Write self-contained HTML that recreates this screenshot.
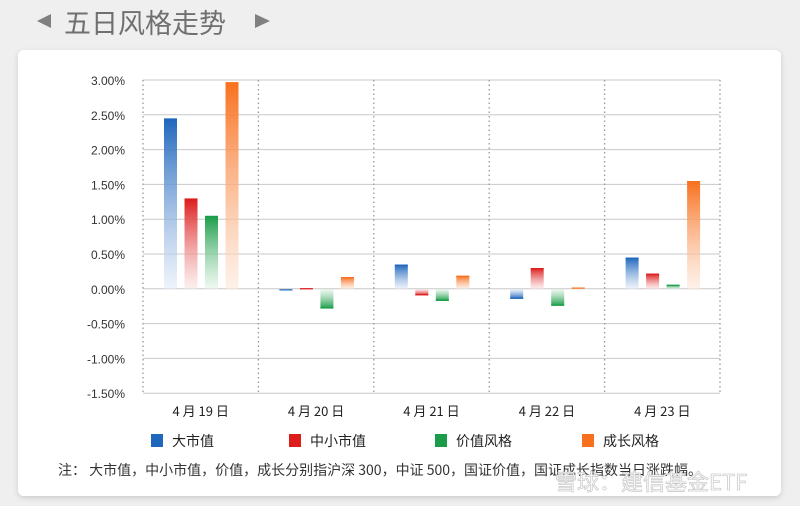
<!DOCTYPE html>
<html><head><meta charset="utf-8"><style>
body{margin:0;width:800px;height:506px;background:#efefef;overflow:hidden;font-family:"Liberation Sans","Noto Sans CJK SC",sans-serif;}
svg{position:absolute;left:0;top:0}
</style></head><body>
<svg id="s" width="800" height="506" xmlns="http://www.w3.org/2000/svg">
<defs>
<filter id="sh" x="-5%" y="-5%" width="110%" height="115%"><feDropShadow dx="0" dy="2" stdDeviation="3" flood-color="#000" flood-opacity="0.15"/></filter>
</defs>
<polygon points="37,21 51,14 51,28" fill="#808080"/>
<text x="64" y="33" font-size="27" fill="#707070" font-family="Noto Sans CJK SC, sans-serif">五日风格走势</text>
<polygon points="270,14 255,7 255,21" fill="#808080" transform="translate(0,7)"/>
<rect x="18" y="50" width="763" height="446" rx="6" fill="#fff" filter="url(#sh)"/>
<g id="g"></g>
<text x="58" y="475" font-size="14" fill="#333" font-family="Noto Sans CJK SC, sans-serif">注：  大市值，中小市值，价值，成长分别指沪深 300，中证 500，国证价值，国证成长指数当日涨跌幅。</text>
<text x="555" y="490" font-size="22" fill="#fff" stroke="#ccc" stroke-width="0.8" font-family="Noto Sans CJK SC, sans-serif">雪球：建信基金ETF</text>
</svg>
<script>
const g=document.getElementById('g');let h='';
const z=289,k=69.6,x0=143,cw=115.4;
const cols=[['#1f66bd','#e3ecf8'],['#dd1c1c','#fbe6e6'],['#1a9c48','#e3f4e8'],['#f8701e','#fde9dc']];
h+='<defs>';
cols.forEach((c,i)=>{h+=`<linearGradient id="p${i}" x1="0" y1="0" x2="0" y2="1"><stop offset="0" stop-color="${c[0]}"/><stop offset="1" stop-color="${c[1]}" stop-opacity="0.6"/></linearGradient><linearGradient id="n${i}" x1="0" y1="1" x2="0" y2="0"><stop offset="0" stop-color="${c[0]}"/><stop offset="1" stop-color="${c[1]}" stop-opacity="0.6"/></linearGradient>`});
h+='</defs>';
const labs=['3.00%','2.50%','2.00%','1.50%','1.00%','0.50%','0.00%','-0.50%','-1.00%','-1.50%'];
labs.forEach((l,i)=>{const y=80+i*34.8;h+=`<line x1="${x0}" x2="720" y1="${y}" y2="${y}" stroke="#c8c8c8" stroke-width="1"/><text x="125" y="${y+5}" font-size="12" text-anchor="end" fill="#333">${l}</text>`;});
for(let i=0;i<=5;i++){const x=x0+i*cw;h+=`<line x1="${x}" x2="${x}" y1="80" y2="393" stroke="#999" stroke-width="1.3" stroke-dasharray="1.5,3"/>`;}
const d=[[2.45,1.30,1.05,2.97],[-0.02,0.01,-0.28,0.17],[0.35,-0.09,-0.17,0.19],[-0.14,0.30,-0.24,0.02],[0.45,0.22,0.06,1.55]];
const days=['4 月 19 日','4 月 20 日','4 月 21 日','4 月 22 日','4 月 23 日'];
d.forEach((r,j)=>{const gx=x0+j*cw;r.forEach((v,i)=>{const x=gx+21+i*20.5,hh=Math.abs(v)*k;
if(v>=0){h+=`<rect x="${x}" y="${z-hh}" width="13" height="${hh}" fill="url(#p${i})"/><line x1="${x}" x2="${x+13}" y1="${z-hh+0.5}" y2="${z-hh+0.5}" stroke="${cols[i][0]}" stroke-width="1.2"/>`}
else{h+=`<rect x="${x}" y="${z}" width="13" height="${hh}" fill="url(#n${i})"/><line x1="${x}" x2="${x+13}" y1="${z+hh-0.5}" y2="${z+hh-0.5}" stroke="${cols[i][0]}" stroke-width="1.2"/>`}});
h+=`<text x="${gx+cw/2}" y="416" font-size="13" text-anchor="middle" fill="#222" font-family="Noto Sans CJK SC, sans-serif">${days[j]}</text>`;});
const lg=[[151,'大市值'],[289,'中小市值'],[435,'价值风格'],[582,'成长风格']];
lg.forEach((l,i)=>{h+=`<rect x="${l[0]}" y="434" width="12" height="13" fill="${cols[i][0]}"/><text x="${l[0]+21}" y="446" font-size="14" fill="#222" font-family="Noto Sans CJK SC, sans-serif">${l[1]}</text>`;});
g.innerHTML=h;
</script>
</body></html>
